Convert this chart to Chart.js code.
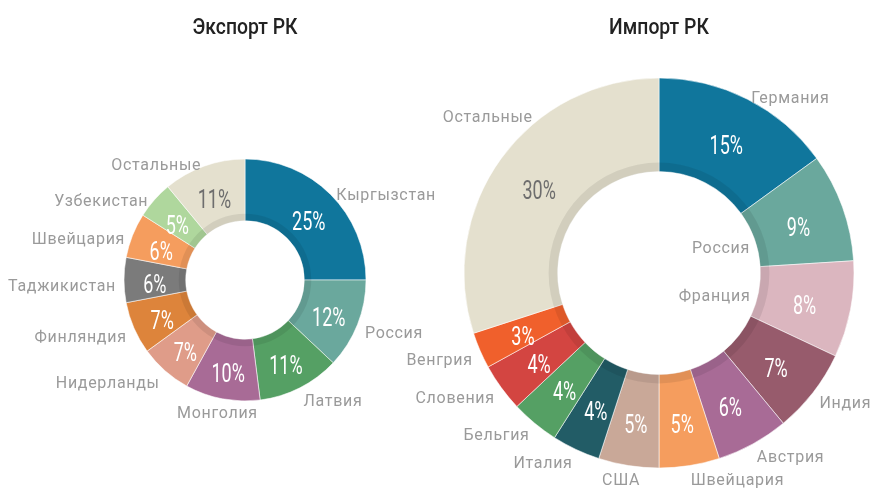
<!DOCTYPE html>
<html>
<head>
<meta charset="utf-8">
<script src="https://cdn.jsdelivr.net/npm/chart.js@4/dist/chart.umd.min.js"></script>
<style>
    html, body { margin: 0; padding: 0; background: #fff; }
    #wrap { position: relative; width: 870px; height: 488px; }
    #wrap canvas { position: absolute; left: 0; top: 0; }
</style>
</head>
<body>
<div id="wrap">
    <canvas id="exportChart" width="870" height="488"></canvas>
    <canvas id="importChart" width="870" height="488"></canvas>
</div>
<script>
const exportLabels = ['Кыргызстан', 'Россия', 'Латвия', 'Монголия', 'Нидерланды', 'Финляндия', 'Таджикистан', 'Швейцария', 'Узбекистан', 'Остальные'];
const exportValues = [25, 12, 11, 10, 7, 7, 6, 6, 5, 11];

const importLabels = ['Германия', 'Россия', 'Франция', 'Индия', 'Австрия', 'Швейцария', 'США', 'Италия', 'Бельгия', 'Словения', 'Венгрия', 'Остальные'];
const importValues = [15, 9, 8, 7, 6, 5, 5, 4, 4, 4, 3, 30];

const exportColors = ['#10769c', '#6aa89d', '#55a064', '#a86b96', '#df9c89', '#dd843b', '#7b7b7b', '#f59d5e', '#afd79d', '#e4e0ce'];
const importColors = ['#10769c', '#6aa89d', '#dbb6bf', '#975b6c', '#a86b96', '#f59d5e', '#c9a898', '#225c66', '#55a064', '#d34541', '#f0602c', '#e4e0ce'];

function drawText(ctx, text, x, y, align, font, color, sx, spacing) {
    ctx.save();
    ctx.translate(x, y);
    ctx.scale(sx, 1);
    ctx.font = font;
    ctx.fillStyle = color;
    ctx.textAlign = align;
    ctx.textBaseline = 'middle';
    if ('letterSpacing' in ctx) {
        ctx.letterSpacing = spacing || '0px';
    }
    ctx.fillText(text, 0, 0);
    ctx.restore();
}

// percentages inside the ring, names outside, a soft shadow ring round the hole
const sliceLabels = {
    id: 'sliceLabels',
    afterDatasetsDraw(chart, args, opts) {
        const ctx = chart.ctx;
        const meta = chart.getDatasetMeta(0);
        const ds = chart.data.datasets[0];
        const total = ds.data.reduce((a, b) => a + b, 0);
        const { x: cx, y: cy, innerRadius, outerRadius } =
            meta.data[0].getProps(['x', 'y', 'innerRadius', 'outerRadius'], true);

        ctx.save();
        ctx.beginPath();
        ctx.arc(cx, cy, innerRadius + opts.ringWidth, 0, Math.PI * 2);
        ctx.arc(cx, cy, innerRadius, 0, Math.PI * 2, true);
        ctx.fillStyle = 'rgba(0,0,0,0.08)';
        ctx.fill();
        ctx.restore();

        meta.data.forEach((arc, i) => {
            const p = arc.getProps(['startAngle', 'endAngle'], true);
            const mid = (p.startAngle + p.endAngle) / 2;
            const cos = Math.cos(mid);
            const sin = Math.sin(mid);

            const rm = (innerRadius + outerRadius) / 2;
            const pct = Math.round(ds.data[i] / total * 100) + '%';
            const pctColor = i === ds.data.length - 1 ? '#6e6e6e' : '#ffffff';
            drawText(ctx, pct, cx + rm * cos, cy + rm * sin + 7, 'center', '400 25px Roboto', pctColor, 0.72);

            const ro = outerRadius + 8;
            let align = cos > 0.1 ? 'left' : (cos < -0.1 ? 'right' : 'center');
            const nudge = opts.nudges[i] || {};
            if (nudge.align) {
                align = nudge.align;
            }
            drawText(ctx, chart.data.labels[i],
                cx + ro * cos + (nudge.dx || 0), cy + ro * sin + 7 + (nudge.dy || 0),
                align, '400 16px Roboto', '#9a9a9a', 1, '0.7px');
        });

        drawText(ctx, opts.title, cx, 28, 'center', '500 22px Roboto', '#222222', 0.88);
    }
};

function makeDoughnut(id, labels, values, colors, cutout, padding, pluginOpts) {
    return new Chart(document.getElementById(id).getContext('2d'), {
        type: 'doughnut',
        data: {
            labels: labels,
            datasets: [
                {
                    data: values,
                    backgroundColor: colors,
                    borderColor: 'rgba(255,255,255,0.55)',
                    borderWidth: 1,
                },
            ],
        },
        options: {
            responsive: false,
            animation: false,
            cutout: cutout,
            layout: { padding: padding },
            plugins: {
                legend: { display: false },
                tooltip: { enabled: false },
                sliceLabels: pluginOpts,
            },
        },
        plugins: [sliceLabels],
    });
}

makeDoughnut('exportChart', exportLabels, exportValues, exportColors, '49%',
    { left: 123.5, right: 503.5, top: 158.5, bottom: 86.5 },
    { title: 'Экспорт РК', ringWidth: 7, nudges: { 3: { dx: 37 } } });

makeDoughnut('importChart', importLabels, importValues, importColors, '52%',
    { left: 463.5, right: 15.5, top: 77.5, bottom: 19.5 },
    {
        title: 'Импорт РК',
        ringWidth: 9,
        nudges: {
            1: { dx: -100, dy: 38, align: 'right' },
            2: { dx: -108, dy: -21, align: 'right' },
            6: { dx: 13 },
            11: { dx: 38, dy: -43 },
        },
    });
</script>
</body>
</html>
